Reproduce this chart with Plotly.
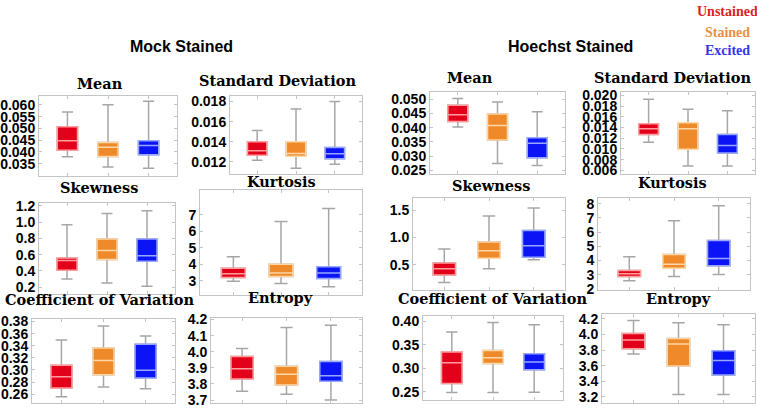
import plotly.graph_objects as go

W, H = 757, 417

groups = ["Unstained", "Stained", "Excited"]
colors = ["#e3001b", "#ee8a2a", "#0a14f5"]
edge_colors = ["#ff9d9d", "#ffd6a6", "#97a6ff"]
legend_colors = ["#d91f1f", "#ec8f45", "#3434ee"]
whisker_color = "#a6a6a6"

# five-number summaries per group: [lower whisker, q1, median, q3, upper whisker]
mock_mean = [[0.0380, 0.0407, 0.0448, 0.0507, 0.0570],
             [0.0336, 0.0381, 0.0420, 0.0440, 0.0600],
             [0.0331, 0.0388, 0.0427, 0.0448, 0.0615]]
mock_std = [[0.01216, 0.01264, 0.01309, 0.01399, 0.01511],
            [0.01136, 0.01255, 0.01283, 0.01399, 0.01726],
            [0.01174, 0.01229, 0.01280, 0.01341, 0.01800]]
hoechst_mean = [[0.0403, 0.0422, 0.0446, 0.0479, 0.0503],
                [0.0274, 0.0357, 0.0408, 0.0448, 0.0491],
                [0.0267, 0.0294, 0.0345, 0.0365, 0.0456]]
hoechst_std = [[0.01123, 0.01270, 0.01379, 0.01470, 0.01927],
               [0.00679, 0.00996, 0.01379, 0.01489, 0.01744],
               [0.00679, 0.00923, 0.01063, 0.01270, 0.01714]]
mock_skew = [[0.300, 0.408, 0.528, 0.560, 0.968],
             [0.252, 0.540, 0.652, 0.792, 1.108],
             [0.212, 0.520, 0.588, 0.792, 1.140]]
mock_kurt = [[2.98, 3.20, 3.43, 3.76, 4.46],
             [2.84, 3.27, 3.47, 4.01, 6.59],
             [2.65, 3.14, 3.47, 3.86, 7.39]]
hoechst_skew = [[0.173, 0.310, 0.423, 0.530, 0.786],
                [0.423, 0.619, 0.756, 0.917, 1.393],
                [0.589, 0.637, 0.845, 1.125, 1.542]]
hoechst_kurt = [[2.57, 2.88, 3.06, 3.29, 4.26],
                [2.88, 3.45, 3.74, 4.42, 6.80],
                [3.02, 3.63, 4.13, 5.40, 7.86]]
mock_cov = [[0.2557, 0.2702, 0.2889, 0.3077, 0.3495],
            [0.2718, 0.2921, 0.3157, 0.3361, 0.3725],
            [0.2691, 0.2868, 0.2996, 0.3425, 0.3559]]
mock_ent = [[3.754, 3.830, 3.894, 3.970, 4.020],
            [3.736, 3.794, 3.860, 3.910, 4.150],
            [3.700, 3.816, 3.850, 3.940, 4.164]]
hoechst_cov = [[0.2479, 0.2672, 0.3119, 0.3346, 0.3773],
               [0.2479, 0.3099, 0.3222, 0.3381, 0.3979],
               [0.2486, 0.2968, 0.3133, 0.3312, 0.3931]]
hoechst_ent = [[3.750, 3.817, 3.929, 4.012, 4.179],
               [3.229, 3.596, 3.879, 3.950, 4.150],
               [3.229, 3.479, 3.667, 3.792, 4.125]]

# tick labels
ticks_mock_mean = [0.035, 0.040, 0.045, 0.050, 0.055, 0.060]
ticks_mock_std = [0.012, 0.014, 0.016, 0.018]
ticks_hoechst_mean = [0.025, 0.030, 0.035, 0.040, 0.045, 0.050]
ticks_hoechst_std = [0.006, 0.008, 0.010, 0.012, 0.014, 0.016, 0.018, 0.020]
ticks_mock_skew = [0.2, 0.4, 0.6, 0.8, 1.0, 1.2]
ticks_mock_kurt = [3, 4, 5, 6, 7]
ticks_hoechst_skew = [0.5, 1.0, 1.5]
ticks_hoechst_kurt = [2, 3, 4, 5, 6, 7, 8]
ticks_mock_cov = [0.26, 0.28, 0.30, 0.32, 0.34, 0.36, 0.38]
ticks_mock_ent = [3.7, 3.8, 3.9, 4.0, 4.1, 4.2]
ticks_hoechst_cov = [0.25, 0.30, 0.35, 0.40]
ticks_hoechst_ent = [3.2, 3.4, 3.6, 3.8, 4.0, 4.2]

panels = [
    # data, title, ticks, fmt, y-range, frame px (x0,x1,y0,y1), title px (cx,cy)
    (mock_mean, "Mean", ticks_mock_mean, ".3f", [0.0300, 0.0637], (39, 177, 93, 175), (100, 80)),
    (mock_std, "Standard Deviation", ticks_mock_std, ".3f", [0.01082, 0.01854], (230, 362, 93, 173), (277, 77)),
    (hoechst_mean, "Mean", ticks_hoechst_mean, ".3f", [0.02385, 0.0525], (430, 565, 89, 173), (470, 74)),
    (hoechst_std, "Standard Deviation", ticks_hoechst_std, ".3f", [0.00539, 0.0206], (621, 755, 89, 173), (672, 74)),
    (mock_skew, "Skewness", ticks_mock_skew, ".1f", [0.12, 1.24], (39, 175, 203, 297), (99, 187)),
    (mock_kurt, "Kurtosis", ticks_mock_kurt, "d", [2.16, 8.5], (200, 362, 190, 298), (281, 181)),
    (hoechst_skew, "Skewness", ticks_hoechst_skew, ".1f", [0.036, 1.727], (413, 565, 198, 293), (491, 185)),
    (hoechst_kurt, "Kurtosis", ticks_hoechst_kurt, "d", [1.93, 8.41], (598, 750, 198, 293), (672, 182)),
    (mock_cov, "Coefficient of Variation", ticks_mock_cov, ".2f", [0.245, 0.3843], (32, 175, 323, 410), (99, 303)),
    (mock_ent, "Entropy", ticks_mock_ent, ".1f", [3.68, 4.21], (211, 362, 322, 410), (280, 301)),
    (hoechst_cov, "Coefficient of Variation", ticks_hoechst_cov, ".2f", [0.2314, 0.4117], (423, 563, 320, 407), (492, 302)),
    (hoechst_ent, "Entropy", ticks_hoechst_ent, ".1f", [3.117, 4.2625], (602, 755, 318, 410), (678, 302)),
]

fig = go.Figure()
layout = dict(
    width=W, height=H, margin=dict(l=0, r=0, t=0, b=0),
    paper_bgcolor="white", plot_bgcolor="white",
    showlegend=False, boxmode="overlay",
)
annotations = []
positions = [0, 1, 2]

tick_font = dict(family="Liberation Sans", size=14, color="black", weight="bold")
title_font = dict(family="DejaVu Serif", size=14.5, color="black")

for i, (data, title, tv, fmt, yr, frame, tpos) in enumerate(panels):
    n = i + 1
    xa = "x" if n == 1 else f"x{n}"
    ya = "y" if n == 1 else f"y{n}"
    lo = [d[0] for d in data]
    q1 = [d[1] for d in data]
    med = [d[2] for d in data]
    q3 = [d[3] for d in data]
    hi = [d[4] for d in data]
    # gray whiskers with caps
    fig.add_trace(go.Box(
        x=positions, q1=q1, median=med, q3=q3, lowerfence=lo, upperfence=hi,
        xaxis=xa, yaxis=ya, width=0.5, whiskerwidth=0.55,
        line=dict(color=whisker_color, width=1.5), fillcolor="rgba(0,0,0,0)",
        boxpoints=False, hoverinfo="skip",
    ))
    # coloured boxes with light median
    for g in range(3):
        fig.add_trace(go.Box(
            x=[positions[g]], q1=[q1[g]], median=[med[g]], q3=[q3[g]],
            lowerfence=[q1[g]], upperfence=[q3[g]],
            xaxis=xa, yaxis=ya, width=0.5, whiskerwidth=0,
            line=dict(color=edge_colors[g], width=1.5), fillcolor=colors[g],
            boxpoints=False, name=groups[g],
        ))
    x0, x1, y0, y1 = frame
    xkey = "xaxis" if n == 1 else f"xaxis{n}"
    ykey = "yaxis" if n == 1 else f"yaxis{n}"
    layout[xkey] = dict(
        domain=[x0 / W, x1 / W], anchor=ya, range=[-0.7, 2.7],
        showgrid=False, zeroline=False, showticklabels=False,
        showline=True, linecolor="#c4c4c4", linewidth=1, mirror="ticks",
        ticks="inside", ticklen=3, tickcolor="#c4c4c4", tickvals=positions,
        fixedrange=True,
    )
    layout[ykey] = dict(
        domain=[1 - y1 / H, 1 - y0 / H], anchor=xa, range=yr,
        showgrid=False, zeroline=False, tickvals=tv, tickformat=fmt,
        showline=True, linecolor="#c4c4c4", linewidth=1, mirror="ticks",
        ticks="inside", ticklen=3, tickcolor="#c4c4c4",
        tickfont=tick_font, fixedrange=True,
    )
    annotations.append(dict(
        text=f"<b>{title}</b>", xref="paper", yref="paper",
        x=tpos[0] / W, y=1 - tpos[1] / H, xanchor="center", yanchor="middle",
        showarrow=False, font=title_font,
    ))

head_font = dict(family="Liberation Sans", size=16, color="black")
annotations.append(dict(text="<b>Mock Stained</b>", xref="paper", yref="paper",
                        x=181 / W, y=1 - 42 / H, xanchor="center", yanchor="middle",
                        showarrow=False, font=head_font))
annotations.append(dict(text="<b>Hoechst Stained</b>", xref="paper", yref="paper",
                        x=570 / W, y=1 - 42 / H, xanchor="center", yanchor="middle",
                        showarrow=False, font=head_font))

legend_y = [6, 27, 46]
for g in range(3):
    annotations.append(dict(text=f"<b>{groups[g]}</b>", xref="paper", yref="paper",
                            x=727 / W, y=1 - legend_y[g] / H, xanchor="center", yanchor="middle",
                            showarrow=False,
                            font=dict(family="Liberation Serif", size=14, color=legend_colors[g])))

layout["annotations"] = annotations
fig.update_layout(**layout)
fig.write_html("out.html", config={"displayModeBar": False},
               post_script="document.body.style.margin='0';document.body.style.overflow='hidden';")
